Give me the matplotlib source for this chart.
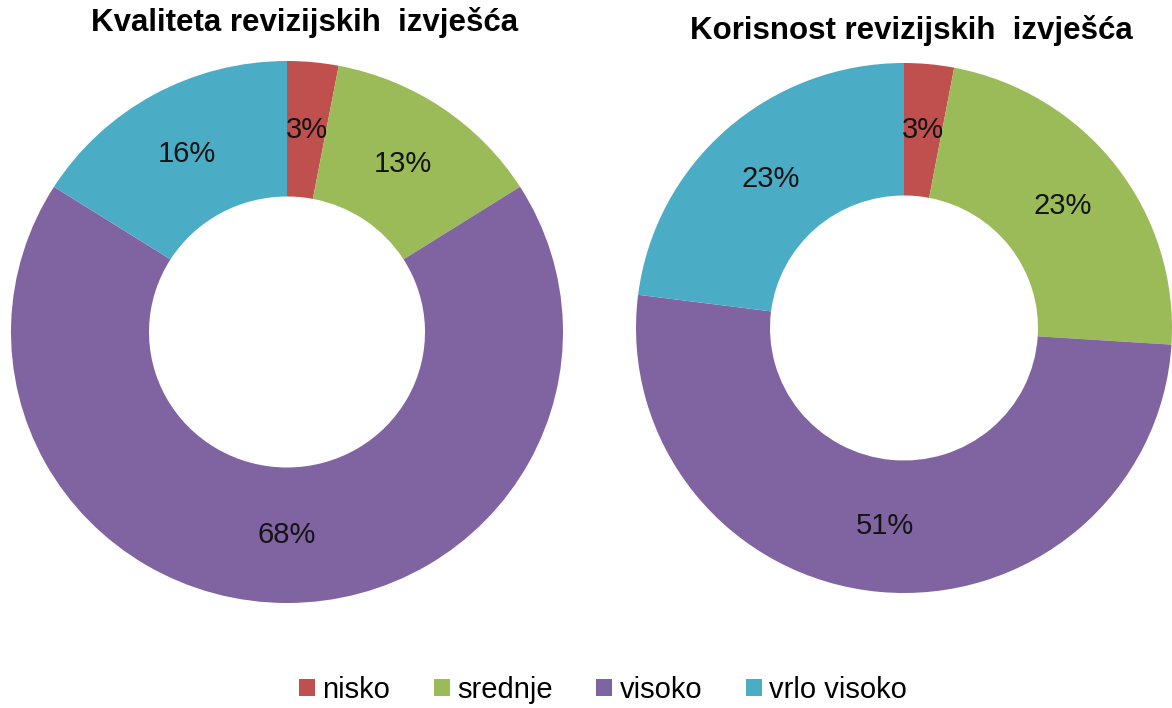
import matplotlib
matplotlib.use("Agg")
import matplotlib.pyplot as plt
from matplotlib.patches import Patch

plt.rcParams['font.family'] = ['Liberation Sans', 'DejaVu Sans']

categories = ['nisko', 'srednje', 'visoko', 'vrlo visoko']
colors = ['#C0504D', '#9BBB59', '#8064A2', '#4BACC6']
title_left = 'Kvaliteta revizijskih  izvješća'
title_right = 'Korisnost revizijskih  izvješća'
values_left = [3, 13, 68, 16]
values_right = [3, 23, 51, 23]

W, H = 1172, 708
fig = plt.figure(figsize=(W / 100, H / 100), dpi=100)


def px_axes(x0, y0, x1, y1):
    return fig.add_axes([x0 / W, 1 - y1 / H, (x1 - x0) / W, (y1 - y0) / H])


def donut(ax, vals):
    ax.pie(vals, colors=colors, startangle=90, counterclock=False, radius=1,
           wedgeprops=dict(width=0.5, linewidth=0),
           autopct=lambda p: f'{p:.0f}%', pctdistance=0.75,
           textprops=dict(fontsize=21, color='#141414'))
    ax.set_aspect('auto')
    ax.set_xlim(-1, 1)
    ax.set_ylim(-1, 1)
    ax.axis('off')


axL = px_axes(11, 61, 563, 603)
donut(axL, values_left)
axR = px_axes(636, 63, 1172, 593)
donut(axR, values_right)

fig.text(305 / W, 1 - 23 / H, title_left, ha='center', va='center',
         fontsize=22.5, fontweight='bold')
fig.text(911 / W, 1 - 31 / H, title_right, ha='center', va='center',
         fontsize=22.5, fontweight='bold')

handles = [Patch(facecolor=c, edgecolor='none') for c in colors]
fig.legend(handles, categories, loc='center', bbox_to_anchor=(603 / W, 1 - 690 / H),
           ncol=4, frameon=False, fontsize=21, handlelength=0.55, handleheight=0.55,
           handletextpad=0.25, columnspacing=1.5)

fig.savefig('out.png', dpi=100)
